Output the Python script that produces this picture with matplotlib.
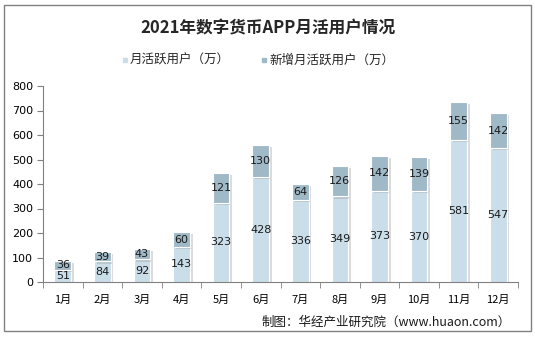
import matplotlib
matplotlib.use("Agg")
import matplotlib.pyplot as plt
import matplotlib.patheffects as pe
from matplotlib.patches import Rectangle
import numpy as np

plt.rcParams['font.family'] = ['Noto Sans CJK SC', 'DejaVu Sans']

months = ["1月", "2月", "3月", "4月", "5月", "6月",
          "7月", "8月", "9月", "10月", "11月", "12月"]
active = [51, 84, 92, 143, 323, 428, 336, 349, 373, 370, 581, 547]
new_active = [36, 39, 43, 60, 121, 130, 64, 126, 142, 139, 155, 142]

C_LIGHT = "#cadeea"
C_DARK = "#a0b9c7"

fig = plt.figure(figsize=(5.35, 3.37), dpi=100)
fig.patch.set_facecolor("white")
fig.add_artist(Rectangle((4 / 535, 6 / 337), 527 / 535, 326 / 337,
                         transform=fig.transFigure, fill=False,
                         edgecolor="#808080", lw=1.0))

ax = fig.add_axes([43 / 535, 1 - 282 / 337, 475 / 535, 196 / 337])
x = np.arange(len(months))
shadow = [pe.SimplePatchShadow(offset=(2, -1.5), shadow_rgbFace="#999999", alpha=0.35),
          pe.Normal()]
ax.bar(x, active, width=0.42, color=C_LIGHT, edgecolor="white", lw=0.8,
       path_effects=shadow, zorder=2)
ax.bar(x, new_active, width=0.42, bottom=active, color=C_DARK,
       edgecolor="white", lw=0.8, path_effects=shadow, zorder=2)

for i in range(len(months)):
    ax.text(x[i], active[i] / 2, str(active[i]), ha="center", va="center",
            fontsize=8, color="#1a1a1a", family="DejaVu Sans", zorder=3)
    ax.text(x[i], active[i] + new_active[i] / 2, str(new_active[i]),
            ha="center", va="center", fontsize=8, color="#1a1a1a",
            family="DejaVu Sans", zorder=3)

ax.set_xlim(-0.5, len(months) - 0.5)
ax.set_ylim(0, 800)
ax.set_yticks(range(0, 801, 100))
ax.set_yticklabels([str(v) for v in range(0, 801, 100)], family="DejaVu Sans")
ax.set_xticks(x)
ax.set_xticklabels(months, fontsize=8)
ax.set_xticks(np.arange(-0.5, len(months), 1), minor=True)
ax.tick_params(axis="x", which="major", length=0, pad=9)
ax.tick_params(axis="x", which="minor", length=4, color="#808080")
ax.tick_params(axis="y", length=4, color="#808080", labelsize=8, pad=3)
for s in ["top", "right"]:
    ax.spines[s].set_visible(False)
for s in ["left", "bottom"]:
    ax.spines[s].set_color("#808080")

fig.text(0.5, 1 - 28 / 337, "2021年数字货币APP月活用户情况", ha="center",
         va="center", fontsize=12, fontweight="bold", color="#262626")

# legend
fig.add_artist(Rectangle((123 / 535, 1 - 62 / 337), 4 / 535, 4 / 337,
                         transform=fig.transFigure, color=C_LIGHT))
fig.text(130 / 535, 1 - 60 / 337, "月活跃用户（万）", va="center",
         fontsize=9, color="#262626")
fig.add_artist(Rectangle((262 / 535, 1 - 62 / 337), 4 / 535, 4 / 337,
                         transform=fig.transFigure, color=C_DARK))
fig.text(269 / 535, 1 - 60 / 337, "新增月活跃用户（万）", va="center",
         fontsize=9, color="#262626")

fig.text(511 / 535, 1 - 322 / 337, "制图：华经产业研究院（www.huaon.com）",
         ha="right", va="center", fontsize=9, color="#1a1a1a")

fig.savefig("out.png", dpi=100)
